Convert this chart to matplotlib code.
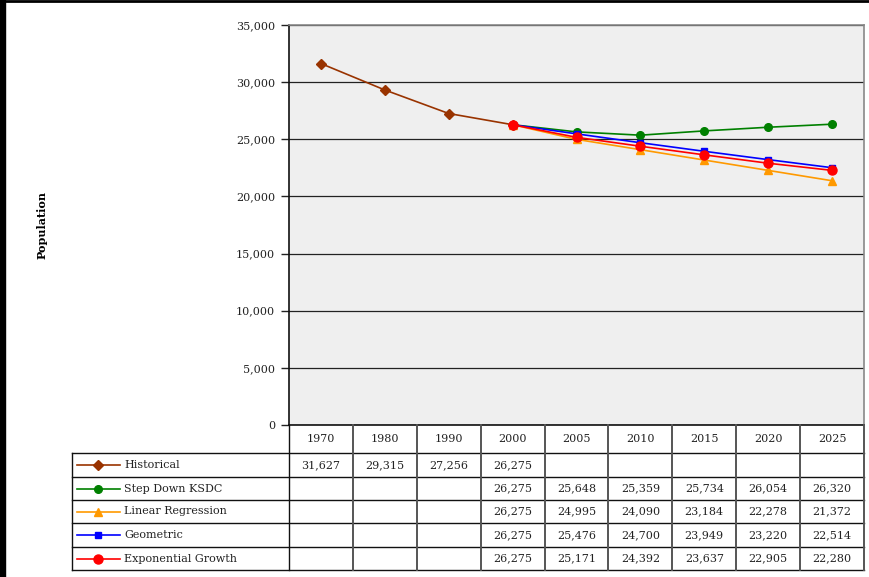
import matplotlib
matplotlib.use("Agg")
import matplotlib.pyplot as plt
from matplotlib.lines import Line2D
from matplotlib.ticker import FuncFormatter

years = ["1970", "1980", "1990", "2000", "2005", "2010", "2015", "2020", "2025"]
historical = [31627, 29315, 27256, 26275, None, None, None, None, None]
step_down = [None, None, None, 26275, 25648, 25359, 25734, 26054, 26320]
linear_reg = [None, None, None, 26275, 24995, 24090, 23184, 22278, 21372]
geometric = [None, None, None, 26275, 25476, 24700, 23949, 23220, 22514]
exponential = [None, None, None, 26275, 25171, 24392, 23637, 22905, 22280]

series_names = ["Historical", "Step Down KSDC", "Linear Regression", "Geometric", "Exponential Growth"]
series_values = [historical, step_down, linear_reg, geometric, exponential]
colors = ["#993300", "#008000", "#FF9900", "#0000FF", "#FF0000"]
markers = ["D", "o", "^", "s", "o"]
msizes = [5.5, 5.5, 6, 5, 6.5]

W, H = 869, 577
fig = plt.figure(figsize=(W / 100, H / 100), dpi=100)
plt.rcParams['font.family'] = ['DejaVu Serif']

def fx(px):
    return px / W

def fy(py):
    return 1 - py / H

L, R, T, B = 289, 864, 25, 425
ax = fig.add_axes([fx(L), fy(B), fx(R) - fx(L), fy(T) - fy(B)])
ax.set_facecolor("#efefef")
ax.set_xlim(-0.5, len(years) - 0.5)
ax.set_ylim(0, 35000)
ax.set_yticks(range(0, 35001, 5000))
ax.yaxis.set_major_formatter(FuncFormatter(lambda v, p: f"{int(v):,}"))
ax.tick_params(axis="y", length=6, width=1, labelsize=8, colors="#222222", pad=4)
ax.set_xticks([])
ax.grid(axis="y", color="#222222", linewidth=0.9)
ax.set_axisbelow(True)
for s in ["top", "right"]:
    ax.spines[s].set_color("#888888")
    ax.spines[s].set_linewidth(1.2)
for s in ["left", "bottom"]:
    ax.spines[s].set_color("#111111")
    ax.spines[s].set_linewidth(1.2)

xs = list(range(len(years)))
for name, vals, c, m, ms in zip(series_names, series_values, colors, markers, msizes):
    px = [x for x, v in zip(xs, vals) if v is not None]
    py = [v for v in vals if v is not None]
    ax.plot(px, py, color=c, marker=m, markersize=ms, linewidth=1.2, label=name, zorder=3)

fig.text(fx(42), fy(225), "Population", rotation=90, ha="center", va="center",
         fontsize=8, fontweight="bold")

def line(x0, y0, x1, y1, color="#111111", lw=1.0):
    fig.add_artist(Line2D([fx(x0), fx(x1)], [fy(y0), fy(y1)], color=color, linewidth=lw))

col_w = (R - L) / len(years)
row_ys = [425, 453, 477, 500, 523, 547, 570]
legend_left = 72

line(legend_left, row_ys[1], R, row_ys[1])
for y in row_ys[2:]:
    line(legend_left, y, R, y)
line(legend_left, row_ys[1], legend_left, row_ys[-1])
line(L, row_ys[0], L, row_ys[-1])
for i in range(1, len(years) + 1):
    xv = L + i * col_w
    line(xv, row_ys[0], xv, row_ys[-1], color="#555555", lw=1.4)

for i, yr in enumerate(years):
    fig.text(fx(L + (i + 0.5) * col_w), fy((row_ys[0] + row_ys[1]) / 2), yr,
             ha="center", va="center", fontsize=8, color="#222222")

for r, (name, vals, c, m, ms) in enumerate(zip(series_names, series_values, colors, markers, msizes)):
    yc = (row_ys[r + 1] + row_ys[r + 2]) / 2
    fig.add_artist(Line2D([fx(77), fx(120)], [fy(yc), fy(yc)], color=c, linewidth=1.2))
    fig.add_artist(Line2D([fx(98)], [fy(yc)], color=c, marker=m, markersize=ms, linestyle="none"))
    fig.text(fx(124), fy(yc), name, ha="left", va="center", fontsize=8, color="#222222")
    for i, v in enumerate(vals):
        if v is not None:
            fig.text(fx(L + (i + 0.5) * col_w), fy(yc), f"{v:,}", ha="center", va="center",
                     fontsize=8, color="#222222")

fig.add_artist(plt.Rectangle((0, 0), fx(5), 1, color="black", transform=fig.transFigure))
fig.add_artist(Line2D([0, 1], [fy(1), fy(1)], color="black", linewidth=2))

fig.savefig("out.png", dpi=100)
